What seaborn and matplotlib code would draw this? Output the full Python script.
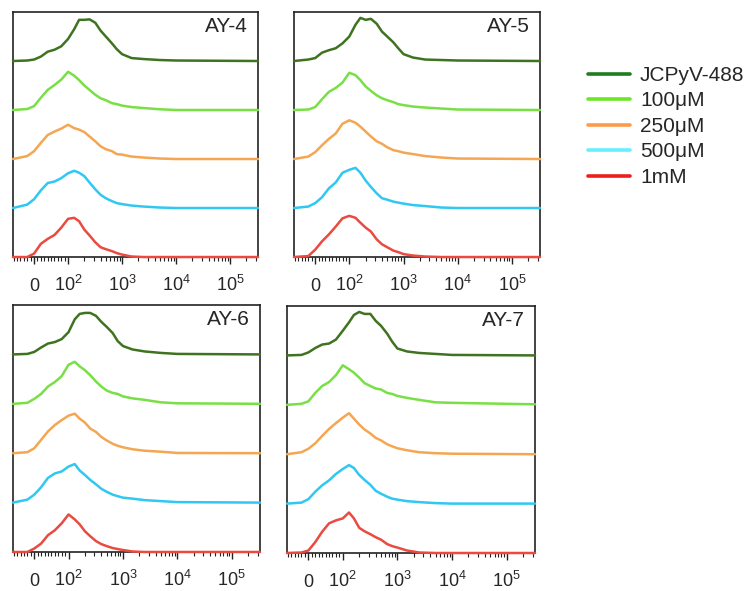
import numpy as np
import pandas as pd
import matplotlib.pyplot as plt
from matplotlib.lines import Line2D
import seaborn as sns

# sample order, top lane to bottom lane
samples = ['JCPyV-488', '100\u03bcM', '250\u03bcM', '500\u03bcM', '1mM']
panel_names = ['AY-4', 'AY-5', 'AY-6', 'AY-7']

# fluorescence values where the histogram heights were read
fluor = [-62, -20, 0, 20, 40, 60, 80, 100, 130, 160, 200, 250, 320, 400,
         500, 650, 800, 1000, 1500, 2500, 5000, 10000, 330000]

# normalised counts (fraction of one lane) per sample
ay4_heights = [
    [0, 0.01, 0.03, 0.09, 0.19, 0.23, 0.30, 0.45, 0.65, 0.84, 0.84, 0.85, 0.78, 0.62, 0.50, 0.36, 0.24, 0.14, 0.06, 0.04, 0.02, 0.01, 0],
    [0, 0.02, 0.08, 0.25, 0.41, 0.51, 0.62, 0.78, 0.70, 0.61, 0.50, 0.41, 0.31, 0.24, 0.20, 0.14, 0.12, 0.09, 0.06, 0.04, 0.015, 0, 0],
    [0, 0.06, 0.16, 0.33, 0.49, 0.56, 0.62, 0.70, 0.63, 0.60, 0.55, 0.46, 0.36, 0.26, 0.20, 0.16, 0.10, 0.09, 0.05, 0.03, 0.01, 0, 0],
    [0, 0.07, 0.18, 0.36, 0.51, 0.54, 0.61, 0.71, 0.76, 0.72, 0.65, 0.52, 0.38, 0.27, 0.20, 0.14, 0.10, 0.08, 0.05, 0.03, 0.01, 0, 0],
    [0, 0, 0.07, 0.27, 0.37, 0.45, 0.60, 0.78, 0.80, 0.73, 0.56, 0.44, 0.30, 0.20, 0.16, 0.12, 0.08, 0.05, 0.01, 0, 0, 0, 0],
]
ay5_heights = [
    [0, 0.03, 0.06, 0.17, 0.22, 0.26, 0.36, 0.50, 0.74, 0.88, 0.84, 0.86, 0.76, 0.60, 0.50, 0.38, 0.26, 0.14, 0.07, 0.03, 0.02, 0.01, 0],
    [0, 0.01, 0.06, 0.22, 0.37, 0.45, 0.56, 0.76, 0.71, 0.61, 0.48, 0.39, 0.30, 0.24, 0.20, 0.16, 0.12, 0.10, 0.07, 0.05, 0.03, 0.01, 0],
    [0, 0.05, 0.14, 0.28, 0.41, 0.52, 0.72, 0.79, 0.74, 0.66, 0.56, 0.46, 0.36, 0.31, 0.24, 0.18, 0.16, 0.13, 0.10, 0.06, 0.03, 0.01, 0],
    [0, 0.03, 0.10, 0.22, 0.40, 0.52, 0.72, 0.78, 0.82, 0.72, 0.56, 0.43, 0.30, 0.20, 0.17, 0.13, 0.11, 0.09, 0.06, 0.04, 0.01, 0, 0],
    [0, 0.02, 0.15, 0.32, 0.46, 0.62, 0.79, 0.84, 0.80, 0.70, 0.60, 0.52, 0.36, 0.26, 0.20, 0.13, 0.10, 0.06, 0.03, 0.01, 0, 0, 0],
]
ay6_heights = [
    [0, 0.01, 0.05, 0.14, 0.22, 0.25, 0.31, 0.45, 0.71, 0.82, 0.84, 0.84, 0.78, 0.66, 0.56, 0.43, 0.27, 0.17, 0.10, 0.06, 0.03, 0.01, 0],
    [0, 0.02, 0.10, 0.20, 0.35, 0.44, 0.56, 0.79, 0.85, 0.76, 0.68, 0.58, 0.45, 0.35, 0.27, 0.22, 0.20, 0.15, 0.11, 0.08, 0.03, 0.01, 0],
    [0, 0.02, 0.10, 0.27, 0.44, 0.57, 0.67, 0.76, 0.80, 0.70, 0.62, 0.50, 0.43, 0.33, 0.26, 0.19, 0.15, 0.12, 0.08, 0.05, 0.03, 0.005, 0],
    [0, 0.06, 0.16, 0.31, 0.50, 0.59, 0.63, 0.73, 0.78, 0.65, 0.56, 0.46, 0.37, 0.28, 0.22, 0.16, 0.13, 0.10, 0.08, 0.05, 0.03, 0.01, 0],
    [0, 0, 0.07, 0.17, 0.34, 0.44, 0.58, 0.76, 0.66, 0.56, 0.42, 0.32, 0.22, 0.16, 0.12, 0.08, 0.06, 0.04, 0.01, 0, 0, 0, 0],
]
ay7_heights = [
    [0, 0.01, 0.06, 0.15, 0.22, 0.24, 0.32, 0.50, 0.67, 0.82, 0.88, 0.84, 0.84, 0.70, 0.60, 0.44, 0.28, 0.14, 0.08, 0.05, 0.03, 0.01, 0],
    [0, 0.02, 0.07, 0.24, 0.38, 0.46, 0.60, 0.80, 0.72, 0.65, 0.55, 0.44, 0.38, 0.33, 0.31, 0.24, 0.22, 0.18, 0.14, 0.10, 0.05, 0.04, 0.01],
    [0, 0.04, 0.11, 0.22, 0.37, 0.51, 0.63, 0.74, 0.83, 0.72, 0.60, 0.50, 0.42, 0.33, 0.28, 0.20, 0.16, 0.12, 0.08, 0.04, 0.02, 0.01, 0],
    [0, 0.02, 0.09, 0.24, 0.37, 0.47, 0.60, 0.70, 0.78, 0.72, 0.58, 0.48, 0.38, 0.26, 0.20, 0.14, 0.10, 0.08, 0.05, 0.03, 0.01, 0, 0],
    [0, 0.01, 0.05, 0.22, 0.43, 0.60, 0.66, 0.70, 0.82, 0.70, 0.51, 0.44, 0.38, 0.32, 0.27, 0.18, 0.14, 0.11, 0.05, 0.01, 0, 0, 0],
]
panel_heights = [ay4_heights, ay5_heights, ay6_heights, ay7_heights]

tick_vals = [0, 100, 1000, 10000, 100000]
tick_labels = ['0', '$10^2$', '$10^3$', '$10^4$', '$10^5$']

trace_colors = ['#3f7320', '#78e045', '#f5a652', '#30c8f2', '#ea4a3f']
legend_colors = ['#1e7d1e', '#6ee628', '#ff9a4a', '#66f0ff', '#ee1c1c']

sns.set_style('ticks')
plt.rcParams['font.family'] = ['Liberation Sans', 'DejaVu Sans']
plt.rcParams['mathtext.fontset'] = 'custom'
plt.rcParams['mathtext.rm'] = 'Liberation Sans'
plt.rcParams['mathtext.it'] = 'Liberation Sans:italic'
plt.rcParams['mathtext.default'] = 'regular'

fig = plt.figure(figsize=(7.51, 5.91), dpi=100)
rects = [[0.0173, 0.5651, 0.3262, 0.4146],
         [0.3915, 0.5651, 0.3276, 0.4146],
         [0.0173, 0.0660, 0.3289, 0.4179],
         [0.3822, 0.0643, 0.3302, 0.4179]]

minor = ([-60, -50, -40, -30, -20, -10, 10, 20, 30, 40, 50, 60, 70, 80, 90]
         + [m * 10 ** e for e in (2, 3, 4) for m in range(2, 10)]
         + [200000, 300000])

for rect, name, heights in zip(rects, panel_names, panel_heights):
    ax = fig.add_axes(rect)
    ax.set_xscale('symlog', linthresh=100, linscale=0.567)
    for i, (h, col) in enumerate(zip(heights, trace_colors)):
        base = len(samples) - 1 - i
        df = pd.DataFrame({'x': fluor, 'y': np.array(h) + base})
        sns.lineplot(data=df, x='x', y='y', color=col, lw=1.8, ax=ax,
                     estimator=None, sort=False, clip_on=False, zorder=3)
    ax.set_xlim(-62, 330000)
    ax.set_ylim(0, 5)
    ax.set_xticks(tick_vals)
    ax.set_xticklabels(tick_labels, fontsize=13)
    ax.set_xticks(minor, minor=True)
    ax.set_yticks([])
    ax.set_xlabel('')
    ax.set_ylabel('')
    ax.tick_params(axis='x', which='both', bottom=True, top=False, color='#222222')
    ax.tick_params(axis='x', which='major', length=5, width=1, direction='out', pad=19.5)
    ax.tick_params(axis='x', which='minor', length=3, width=0.8, direction='out')
    for lab in ax.get_xticklabels():
        lab.set_verticalalignment('baseline')
    for s in ax.spines.values():
        s.set_visible(True)
        s.set_linewidth(1.2)
        s.set_color('#222222')
    ax.text(0.96, 0.918, name, transform=ax.transAxes, ha='right', va='baseline', fontsize=15)

handles = [Line2D([0], [0], color=c, lw=2.6) for c in legend_colors]
fig.legend(handles, samples, loc='upper left', bbox_to_anchor=(588 / 751, 1 - 66 / 591),
           frameon=False, fontsize=15, handlelength=2.0, handletextpad=0.5,
           labelspacing=0.31, borderpad=0, borderaxespad=0)

fig.savefig('out.png', dpi=100)
